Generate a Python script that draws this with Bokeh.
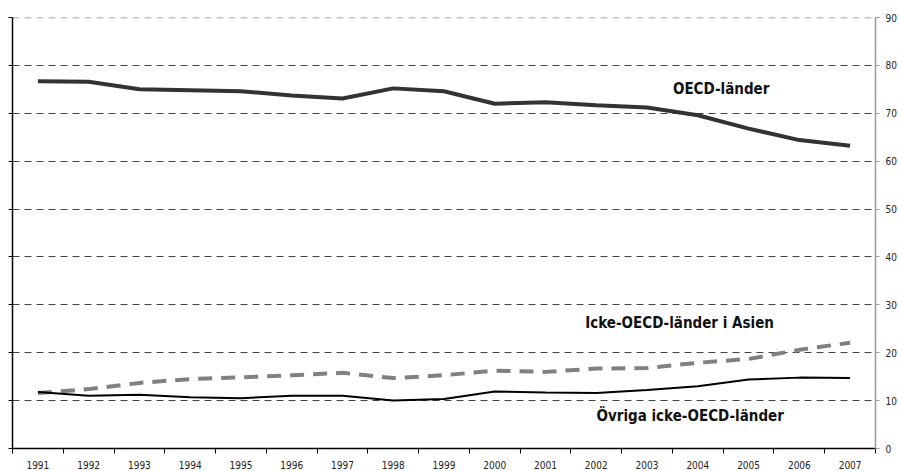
from bokeh.plotting import figure
from bokeh.models import Range1d, FixedTicker, LinearAxis, Label, ColumnDataSource
from bokeh.embed import file_html
from bokeh.resources import INLINE

years = [str(y) for y in range(1991, 2008)]
oecd = [76.7, 76.6, 75.0, 74.8, 74.6, 73.7, 73.1, 75.2, 74.6, 72.0, 72.3, 71.7, 71.2, 69.6, 66.8, 64.4, 63.2]
asia = [11.6, 12.4, 13.7, 14.5, 14.85, 15.3, 15.8, 14.7, 15.3, 16.25, 16.0, 16.7, 16.8, 17.9, 18.7, 20.6, 22.1]
other = [11.8, 11.0, 11.2, 10.7, 10.5, 11.0, 11.0, 10.0, 10.35, 11.9, 11.7, 11.6, 12.2, 13.0, 14.4, 14.8, 14.7]
y_ticks = list(range(0, 100, 10))
series_labels = ["OECD-länder", "Icke-OECD-länder i Asien", "Övriga icke-OECD-länder"]

FONT = "DejaVu Sans Condensed"
xc = [i + 0.5 for i in range(len(years))]
src = ColumnDataSource(dict(x=xc, oecd=oecd, asia=asia, other=other))

p = figure(width=899, height=471, output_backend="svg", toolbar_location=None,
           x_range=Range1d(0, len(years)), y_range=Range1d(0, 90),
           x_axis_location=None, y_axis_location=None,
           min_border_left=12, min_border_right=21, min_border_top=17, min_border_bottom=21)
p.outline_line_color = None
p.background_fill_color = "white"
p.border_fill_color = "white"

# grid
p.xgrid.visible = False
p.ygrid.ticker = FixedTicker(ticks=y_ticks[1:-1])
p.ygrid.grid_line_color = "#444444"
p.ygrid.grid_line_dash = "7 5"
p.ygrid.grid_line_width = 1

# top line at 90 (lighter, thicker)
p.line(x=[0, len(years)], y=[90, 90], line_color="#8c8c8c", line_width=1.6, line_dash="7 5")

# bottom axis
xaxis = LinearAxis(ticker=FixedTicker(ticks=xc, minor_ticks=list(range(len(years) + 1))))
xaxis.major_label_overrides = {x: y for x, y in zip(xc, years)}
xaxis.major_tick_line_color = None
xaxis.minor_tick_line_color = "black"
xaxis.minor_tick_out = 5
xaxis.minor_tick_in = 0
xaxis.axis_line_color = "black"
xaxis.axis_line_width = 1.5
xaxis.major_label_text_font = FONT
xaxis.major_label_text_font_size = "10px"
xaxis.major_label_text_color = "#222222"
xaxis.major_label_standoff = 6
p.add_layout(xaxis, "below")

# left axis (no labels)
laxis = LinearAxis(ticker=FixedTicker(ticks=y_ticks))
laxis.major_label_text_color = None
laxis.major_label_text_font_size = "0px"
laxis.major_tick_out = 4
laxis.major_tick_in = 0
laxis.axis_line_color = "black"
laxis.axis_line_width = 1.5
laxis.major_tick_line_color = "black"
laxis.minor_tick_line_color = None
p.add_layout(laxis, "left")

# right axis
raxis = LinearAxis(ticker=FixedTicker(ticks=y_ticks))
raxis.axis_line_color = "#999999"
raxis.axis_line_width = 1.5
raxis.major_tick_line_color = "#999999"
raxis.major_tick_out = 4
raxis.major_tick_in = 0
raxis.minor_tick_line_color = None
raxis.major_label_text_font = FONT
raxis.major_label_text_font_size = "10px"
raxis.major_label_text_color = "#222222"
raxis.major_label_standoff = 6
p.add_layout(raxis, "right")

p.line("x", "oecd", source=src, line_color="#333333", line_width=4)
p.line("x", "asia", source=src, line_color="#808080", line_width=4, line_dash="14 9")
p.line("x", "other", source=src, line_color="black", line_width=2)

for txt, x, y in [(series_labels[0], 13.96, 75.0),
                  (series_labels[1], 13.14, 26.2),
                  (series_labels[2], 13.35, 6.7)]:
    p.add_layout(Label(x=x, y=y, text=txt, text_align="center", text_baseline="middle",
                       text_font=FONT, text_font_style="bold", text_font_size="15px",
                       text_color="#111111"))

open("out.html", "w").write(file_html(p, INLINE))
